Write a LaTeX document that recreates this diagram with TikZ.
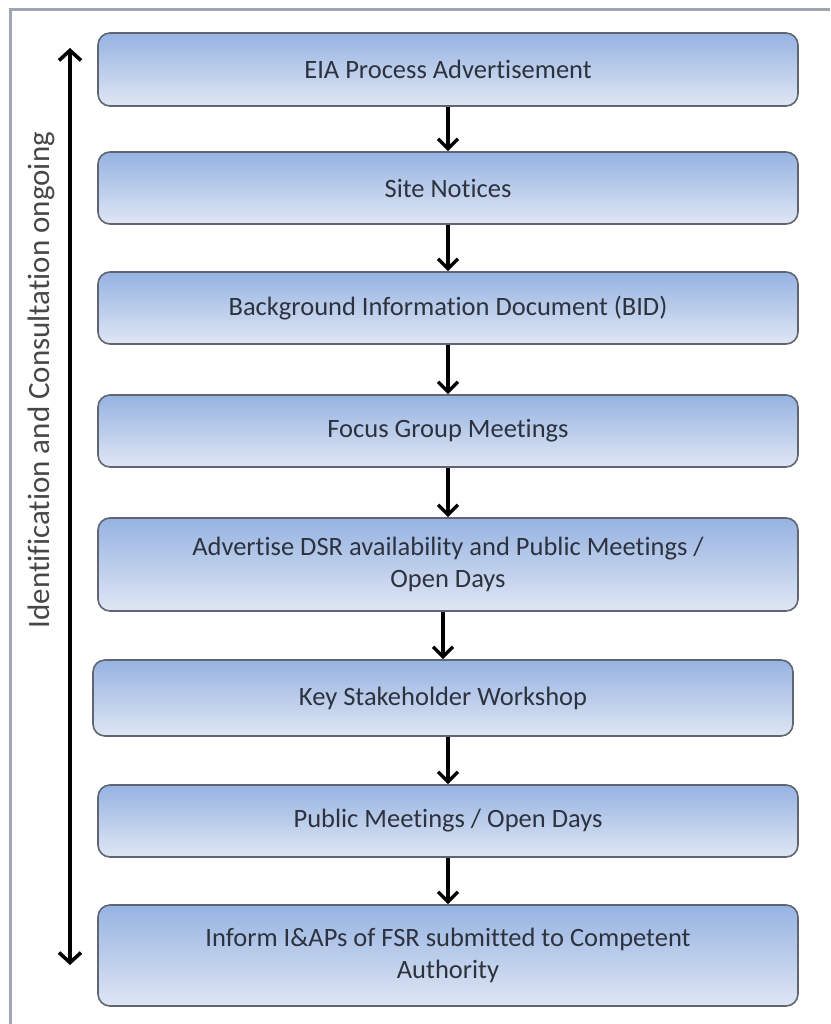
\documentclass[tikz,border=0pt]{standalone}
\usepackage{fontspec}
\setmainfont{Carlito}[Ligatures=NoCommon]
\usepackage{xcolor}
\usetikzlibrary{arrows.meta,positioning}

\definecolor{boxtop}{RGB}{150,179,226}
\definecolor{boxbot}{RGB}{223,230,243}
\definecolor{boxline}{RGB}{96,101,113}
\definecolor{boxtext}{RGB}{45,50,62}
\definecolor{frameline}{RGB}{160,165,178}

\begin{document}
\begin{tikzpicture}[
    x=1pt, y=-1pt,
    font=\fontsize{26.5}{32}\selectfont,
    stage/.style={rectangle, draw=boxline, line width=1.6pt, top color=boxtop, bottom color=boxbot, text=boxtext, minimum width=700pt, rounded corners=12pt, align=center},
    arrow/.style={-{Straight Barb[length=10pt,width=20pt]}, line width=3.4pt},
    twoway/.style={{Straight Barb[length=10pt,width=22pt]}-{Straight Barb[length=10pt,width=22pt]}, line width=3.6pt}
]
\useasboundingbox (0,0) rectangle (830,1024);
\draw[frameline, line width=3pt] (10,1024) -- (10,10) -- (830,10);

\node[stage, minimum height=73pt] (advert) at (448,69.5) {EIA Process Advertisement};
\node[stage, minimum height=72pt] (notices) at (448,188) {Site Notices};
\node[stage, minimum height=72pt] (bid) at (448,308) {Background Information Document (BID)};
\node[stage, minimum height=72pt] (focus) at (448,431) {Focus Group Meetings};
\node[stage, minimum height=93pt] (dsr) at (448,564.5) {Advertise DSR availability and Public Meetings /\\Open Days};
\node[stage, minimum height=76pt] (workshop) at (443,698) {Key Stakeholder Workshop};
\node[stage, minimum height=72pt] (openday) at (448,821) {Public Meetings / Open Days};
\node[stage, minimum height=101pt] (inform) at (448,955.5) {Inform I\&APs of FSR submitted to Competent\\Authority};

\foreach \a/\b in {advert/notices, notices/bid, bid/focus, focus/dsr, dsr/workshop, workshop/openday, openday/inform}
    \draw[arrow] (\a.south -| \b.north) -- (\b.north);

% ongoing consultation
\coordinate (start) at (70,48);
\coordinate (finish) at (70,965);
\draw[twoway] (finish) -- (start);
\node[rotate=90, text=black!72, font=\fontsize{31}{36}\selectfont] (ongoing) at (41,380) {Identification and Consultation ongoing};

\end{tikzpicture}
\end{document}
